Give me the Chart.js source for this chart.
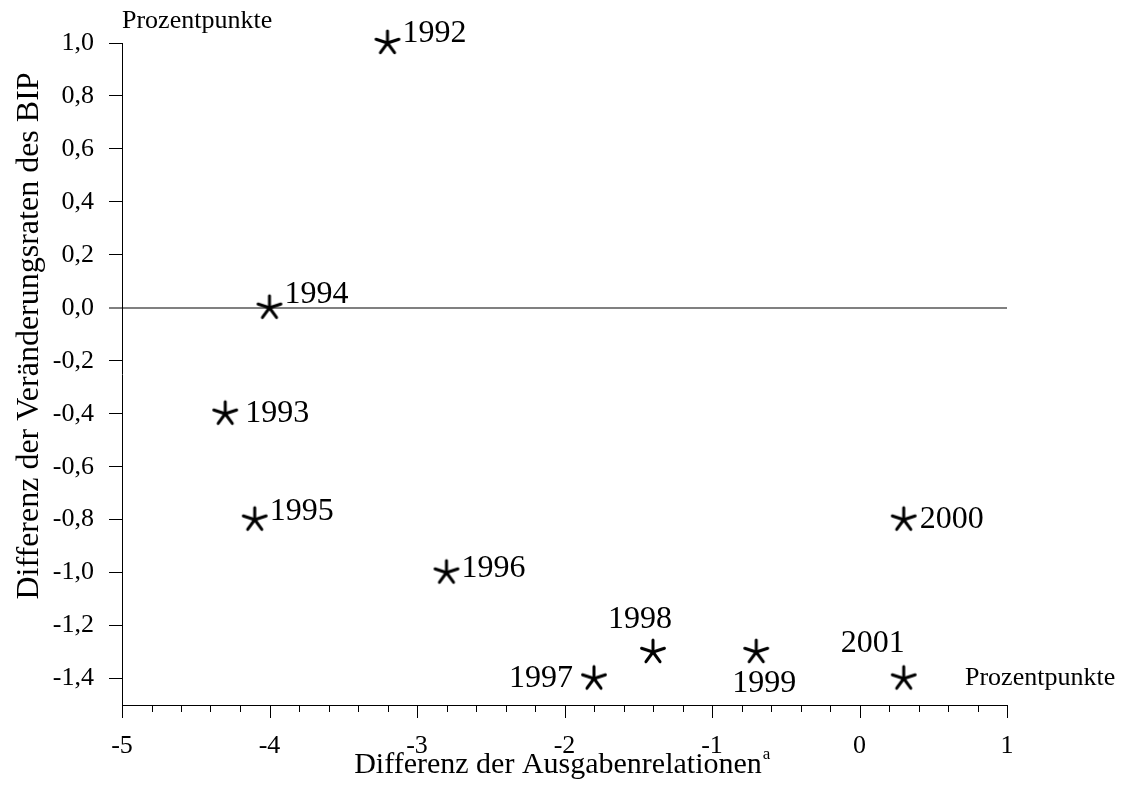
<!DOCTYPE html>
<html>
<head>
<meta charset="utf-8">
<script src="https://cdn.jsdelivr.net/npm/chart.js@4"></script>
<style>
  body { margin: 0; background: #fff; }
</style>
</head>
<body>
<canvas id="myChart" width="1132" height="804"></canvas>
<script>
// data
var years = ['1992', '1993', '1994', '1995', '1996', '1997', '1998', '1999', '2000', '2001'];
var ausgaben = [-3.2, -4.3, -4.0, -4.1, -2.8, -1.8, -1.4, -0.7, 0.3, 0.3];
var bip = [1.0, -0.4, 0.0, -0.8, -1.0, -1.4, -1.3, -1.3, -0.8, -1.4];
var yTicks = [-1.4, -1.2, -1.0, -0.8, -0.6, -0.4, -0.2, 0.0, 0.2, 0.4, 0.6, 0.8, 1.0];
var xTicks = [-5, -4, -3, -2, -1, 0, 1];

// where each year label sits relative to its star
var labelPos = {
  '1992': [15, -9, 'left'],
  '1993': [20, 0, 'left'],
  '1994': [15, -13, 'left'],
  '1995': [15, -8, 'left'],
  '1996': [15, -4, 'left'],
  '1997': [-21, 0, 'right'],
  '1998': [-13, -32, 'center'],
  '1999': [8, 32, 'center'],
  '2000': [16, 0, 'left'],
  '2001': [-31, -35, 'center']
};

Chart.defaults.font.family = "'Liberation Serif', serif";
Chart.defaults.color = '#000';

// five armed asterisk like the one in the original
var star = document.createElement('canvas');
star.width = 30;
star.height = 30;
var sc = star.getContext('2d');
sc.strokeStyle = '#000';
sc.lineWidth = 3;
sc.lineCap = 'round';
for (var i = 0; i < 5; i++) {
  var a = (-90 + i * 72) * Math.PI / 180;
  sc.beginPath();
  sc.moveTo(15, 15);
  sc.lineTo(15 + 12 * Math.cos(a), 15 + 12 * Math.sin(a));
  sc.stroke();
}

var points = ausgaben.map(function (x, i) { return {x: x, y: bip[i]}; });

var extras = {
  id: 'extras',
  afterDraw: function (chart) {
    var ctx = chart.ctx;
    var xs = chart.scales.x;
    var area = chart.chartArea;
    ctx.save();
    // x tick marks, long at whole numbers
    ctx.strokeStyle = '#000';
    ctx.lineWidth = 1;
    for (var v = -5; v <= 1.0001; v += 0.2) {
      var r = Math.round(v * 10) / 10;
      var px = Math.round(xs.getPixelForValue(r)) + 0.5;
      var len = Math.abs(r - Math.round(r)) < 1e-6 ? 13 : 7;
      ctx.beginPath();
      ctx.moveTo(px, area.bottom);
      ctx.lineTo(px, area.bottom + len);
      ctx.stroke();
    }
    // year labels
    ctx.fillStyle = '#000';
    ctx.font = "32px 'Liberation Serif'";
    ctx.textBaseline = 'middle';
    var meta = chart.getDatasetMeta(0);
    meta.data.forEach(function (el, i) {
      var p = labelPos[years[i]];
      ctx.textAlign = p[2];
      ctx.fillText(years[i], el.x + p[0], el.y + p[1]);
    });
    // unit labels
    ctx.font = "26px 'Liberation Serif'";
    ctx.textAlign = 'left';
    ctx.fillText('Prozentpunkte', 122, 21);
    ctx.fillText('Prozentpunkte', 965, 678);
    // axis titles
    ctx.font = "30px 'Liberation Serif'";
    var t = 'Differenz der Ausgabenrelationen';
    var w = ctx.measureText(t).width;
    var x0 = 558 - w / 2;
    ctx.fillText(t, x0, 765);
    ctx.font = "17px 'Liberation Serif'";
    ctx.fillText('a', x0 + w + 1, 755);
    ctx.translate(30, 336);
    ctx.rotate(-Math.PI / 2);
    ctx.font = "32px 'Liberation Serif'";
    ctx.textAlign = 'center';
    ctx.fillText('Differenz der Veränderungsraten des BIP', 0, 0);
    ctx.restore();
  }
};

var config = {
  type: 'scatter',
  data: {
    datasets: [{
      data: points,
      pointStyle: star,
      clip: false
    }]
  },
  options: {
    responsive: false,
    animation: false,
    layout: { padding: { top: 43, right: 125, left: 0, bottom: 0 } },
    plugins: { legend: { display: false }, tooltip: { enabled: false } },
    scales: {
      x: {
        type: 'linear',
        min: -5,
        max: 1,
        afterBuildTicks: function (scale) {
          scale.ticks = xTicks.map(function (v) { return {value: v}; });
        },
        afterFit: function (scale) { scale.height = 99; },
        ticks: {
          autoSkip: false,
          maxRotation: 0,
          padding: 26,
          font: { size: 26 },
          callback: function (v) { return String(v); }
        },
        grid: { display: false, drawTicks: false },
        border: { display: true, color: '#000', width: 1 }
      },
      y: {
        min: -1.5,
        max: 1.0,
        afterBuildTicks: function (scale) {
          scale.ticks = yTicks.map(function (v) { return {value: v}; });
        },
        afterFit: function (scale) { scale.width = 122; },
        ticks: {
          padding: 15,
          font: { size: 26 },
          callback: function (v) { return v.toFixed(1).replace('.', ','); }
        },
        grid: {
          drawOnChartArea: true,
          color: function (c) { return c.tick && c.tick.value === 0 ? '#808080' : 'rgba(0,0,0,0)'; },
          lineWidth: function (c) { return c.tick && c.tick.value === 0 ? 2 : 1; },
          tickColor: '#000',
          tickWidth: 1,
          tickLength: 13
        },
        border: { display: true, color: '#000', width: 1 }
      }
    }
  },
  plugins: [extras]
};

var myChart = new Chart(document.getElementById('myChart'), config);
</script>
</body>
</html>
